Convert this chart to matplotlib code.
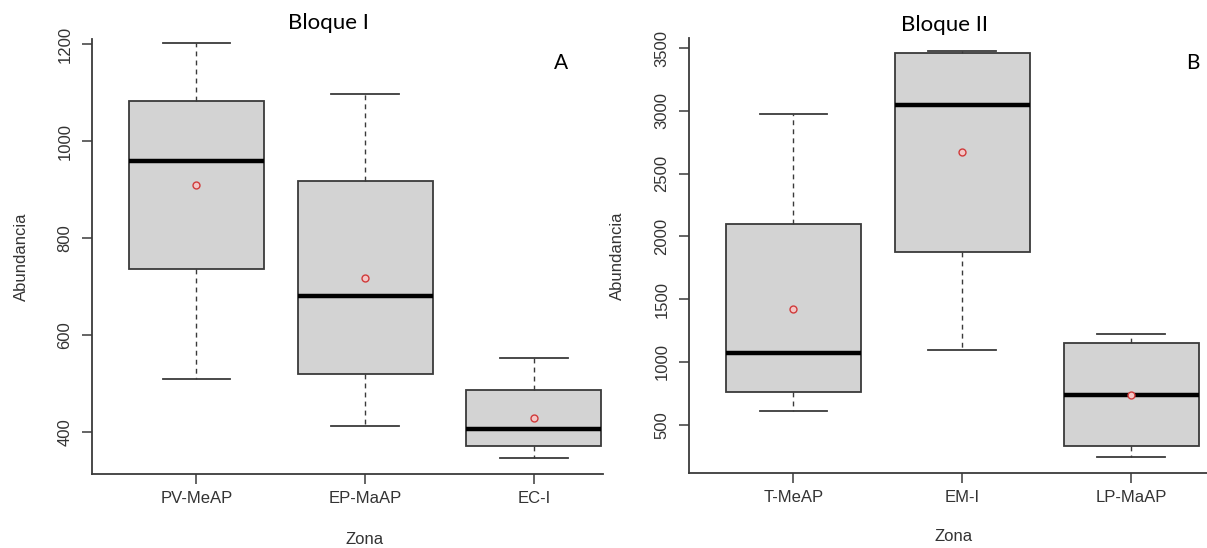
import matplotlib
matplotlib.use("Agg")
import matplotlib.pyplot as plt

# Bloque I
zonas_1 = ["PV-MeAP", "EP-MaAP", "EC-I"]
whishi_1 = [1202, 1098, 553]
q3_1 = [1083, 918, 486]
med_1 = [960, 681, 406]
mean_1 = [909, 718, 429]
q1_1 = [737, 519, 372]
whislo_1 = [510, 413, 347]
yticks_1 = [400, 600, 800, 1000, 1200]

# Bloque II
zonas_2 = ["T-MeAP", "EM-I", "LP-MaAP"]
whishi_2 = [2976, 3481, 1225]
q3_2 = [2097, 3465, 1151]
med_2 = [1069, 3048, 739]
mean_2 = [1425, 2673, 734]
q1_2 = [758, 1874, 327]
whislo_2 = [609, 1093, 243]
yticks_2 = [500, 1000, 1500, 2000, 2500, 3000, 3500]

W, H = 1207, 548
plt.rcParams["font.family"] = ["Liberation Sans", "DejaVu Sans"]
fig = plt.figure(figsize=(W / 100, H / 100), dpi=100)

TXT = "#333333"
LINE = "#3a3a3a"


def stats(labels, lo, q1, med, q3, hi, mean):
    return [dict(label=l, whislo=a, q1=b, med=c, q3=d, whishi=e, mean=m, fliers=[])
            for l, a, b, c, d, e, m in zip(labels, lo, q1, med, q3, hi, mean)]


def panel(rect, labels, lo, q1, med, q3, hi, mean, xlim, ylim, yticks,
          title, title_xy, letter_xy, ylab_x, xlab_xy):
    ax = fig.add_axes(rect)
    ax.bxp(stats(labels, lo, q1, med, q3, hi, mean), positions=[1, 2, 3],
           widths=0.8, capwidths=0.4, showmeans=True, patch_artist=True,
           boxprops=dict(facecolor="#d3d3d3", edgecolor=LINE, linewidth=1.3),
           medianprops=dict(color="black", linewidth=3.2, solid_capstyle="butt"),
           whiskerprops=dict(color=LINE, linewidth=1.0, linestyle=(0, (3.5, 3))),
           capprops=dict(color=LINE, linewidth=1.3),
           meanprops=dict(marker="o", markersize=5, markerfacecolor="#f3c6c6",
                          markeredgecolor="#d03a3a", markeredgewidth=1.0))
    ax.set_xlim(*xlim)
    ax.set_ylim(*ylim)
    ax.set_yticks(yticks)
    ax.set_xticks([1, 2, 3])
    ax.set_xticklabels(labels)
    for s in ("top", "right"):
        ax.spines[s].set_visible(False)
    for s in ("left", "bottom"):
        ax.spines[s].set_color(LINE)
        ax.spines[s].set_linewidth(1.3)
    ax.tick_params(axis="both", direction="out", length=7, width=1.1,
                   color=LINE, labelcolor=TXT, labelsize=12)
    ax.tick_params(axis="x", pad=5)
    ax.tick_params(axis="y", pad=7, labelrotation=90)
    for t in ax.get_yticklabels():
        t.set_va("center")
    ax.set_ylabel("Abundancia", fontsize=12, color=TXT)
    ax.yaxis.set_label_coords(ylab_x, 0.5)
    ax.yaxis.label.set_va("center")
    ax.set_xlabel("Zona", fontsize=12, color=TXT)
    ax.xaxis.set_label_coords(*xlab_xy)
    ax.xaxis.label.set_va("center")
    ax.text(*title_xy, title, transform=ax.transAxes, ha="center", va="center",
            fontsize=16, family=["Lato", "DejaVu Sans"], color="black")
    ax.text(*letter_xy[:2], letter_xy[2], transform=ax.transAxes, ha="center",
            va="center", fontsize=15, family=["Lato", "DejaVu Sans"], color="black")
    return ax


panel([91.7 / W, 74 / H, 511.3 / W, 434.7 / H], zonas_1, whislo_1, q1_1, med_1,
      q3_1, whishi_1, mean_1, (0.38, 3.409), (313.3, 1210.5), yticks_1,
      "Bloque I", (0.4621, 1.0375), (0.9179, 0.9448, "A"), -0.1383, (0.5345, -0.1518))

panel([688.7 / W, 74.7 / H, 518.3 / W, 435.6 / H], zonas_2, whislo_2, q1_2, med_2,
      q3_2, whishi_2, mean_2, (0.38, 3.4496), (113, 3584), yticks_2,
      "Bloque II", (0.4926, 1.0292), (0.9724, 0.9412, "B"), -0.1378, (0.5109, -0.1455))

fig.savefig("out.png", dpi=100)
